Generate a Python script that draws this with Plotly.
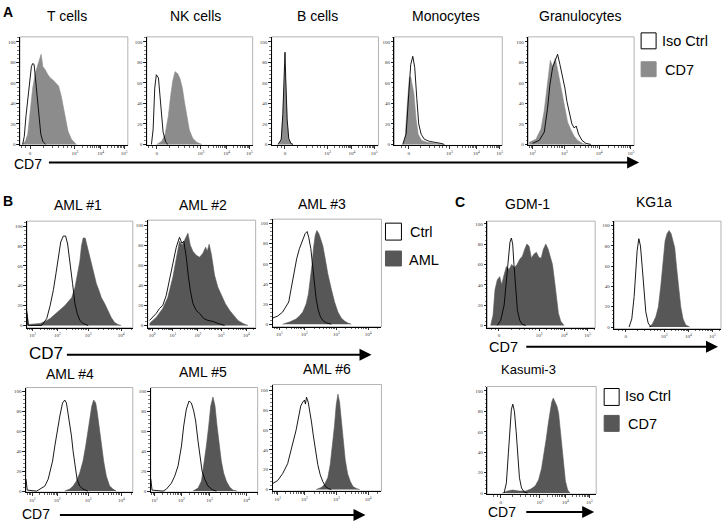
import plotly.graph_objects as go
import math

W, H = 727, 524

# ---------------- data ----------------
# x = position on the displayed fluorescence axis (0 = left edge, 1 = right edge)
# y = % of max (histogram height)

# Panel A
t_iso_x = [0.025, 0.04, 0.056, 0.072, 0.087, 0.106, 0.118, 0.131, 0.143, 0.159, 0.174, 0.193, 0.212, 0.237]
t_iso_y = [0, 8, 28, 45, 62, 76, 79, 78, 65, 45, 25, 10, 3, 0]
t_cd7_x = [0.019, 0.05, 0.072, 0.093, 0.118, 0.143, 0.165, 0.181, 0.196, 0.212, 0.234, 0.259, 0.28, 0.305, 0.33, 0.358, 0.383, 0.414, 0.445, 0.477, 0.523]
t_cd7_y = [0, 3, 10, 30, 55, 70, 78, 83, 88, 76, 73, 68, 65, 63, 60, 57, 47, 28, 13, 5, 0]

nk_iso_x = [0.044, 0.06, 0.075, 0.09, 0.11, 0.13, 0.154, 0.18, 0.2]
nk_iso_y = [0, 15, 55, 68, 65, 40, 12, 2, 0]
nk_cd7_x = [0.094, 0.141, 0.173, 0.204, 0.226, 0.245, 0.267, 0.292, 0.314, 0.336, 0.355, 0.377, 0.402, 0.434, 0.472, 0.519]
nk_cd7_y = [0, 3, 10, 28, 48, 62, 71, 69, 64, 55, 42, 28, 14, 6, 2, 0]

b_iso_x = [0.06, 0.09, 0.105, 0.118, 0.125, 0.132, 0.145, 0.16, 0.18, 0.2]
b_iso_y = [0, 5, 30, 70, 90, 65, 25, 6, 1, 0]
b_cd7_x = [0.065, 0.09, 0.105, 0.118, 0.125, 0.132, 0.145, 0.16, 0.18, 0.2]
b_cd7_y = [0, 5, 28, 60, 75, 58, 22, 5, 1, 0]

mono_iso_x = [0.077, 0.108, 0.133, 0.151, 0.17, 0.188, 0.207, 0.225, 0.247, 0.278, 0.324, 0.386, 0.432, 0.463]
mono_iso_y = [0, 10, 50, 78, 86, 75, 45, 20, 10, 5, 3, 2, 1, 0]
mono_cd7_x = [0.08, 0.1, 0.12, 0.138, 0.15, 0.165, 0.18, 0.2, 0.22, 0.25, 0.3, 0.38, 0.45]
mono_cd7_y = [0, 8, 40, 65, 66, 58, 50, 25, 10, 4, 2, 1, 0]

gran_iso_x = [0.041, 0.104, 0.151, 0.182, 0.204, 0.23, 0.255, 0.277, 0.299, 0.324, 0.346, 0.365, 0.387, 0.412, 0.434, 0.453, 0.475, 0.507, 0.544, 0.591]
gran_iso_y = [1, 4, 12, 35, 58, 75, 82, 88, 78, 66, 55, 42, 30, 20, 16, 18, 10, 4, 1, 0]
gran_cd7_x = [0.009, 0.072, 0.12, 0.151, 0.182, 0.208, 0.23, 0.255, 0.277, 0.308, 0.34, 0.371, 0.403, 0.434, 0.465, 0.512, 0.544]
gran_cd7_y = [2, 5, 15, 33, 60, 82, 76, 84, 73, 55, 37, 22, 14, 8, 4, 1, 0]

# Panel B
aml1_ctrl_x = [0, 0.004, 0.012, 0.14, 0.187, 0.219, 0.25, 0.275, 0.297, 0.319, 0.343, 0.365, 0.384, 0.406, 0.431, 0.453, 0.475, 0.5, 0.531, 0.578]
aml1_ctrl_y = [12, 8, 0, 0, 7, 20, 36, 53, 70, 84, 90, 90, 82, 65, 42, 22, 12, 5, 2, 0]
aml1_aml_x = [0, 0.004, 0.015, 0.125, 0.172, 0.219, 0.265, 0.312, 0.359, 0.39, 0.422, 0.453, 0.475, 0.5, 0.515, 0.531, 0.55, 0.568, 0.587, 0.609, 0.631, 0.656, 0.681, 0.703, 0.734, 0.765, 0.796, 0.828, 0.859, 0.89]
aml1_aml_y = [15, 10, 1, 2, 4, 7, 11, 15, 20, 24, 28, 38, 50, 65, 80, 88, 88, 80, 70, 60, 50, 42, 35, 28, 22, 15, 8, 3, 1, 0]

aml2_ctrl_x = [0.016, 0.046, 0.078, 0.109, 0.139, 0.171, 0.201, 0.232, 0.264, 0.294, 0.316, 0.334, 0.357, 0.375, 0.394, 0.418, 0.449, 0.48, 0.517, 0.557, 0.604, 0.65, 0.712]
aml2_ctrl_y = [5, 8, 12, 17, 20, 30, 45, 62, 78, 88, 82, 84, 68, 50, 35, 22, 15, 12, 7, 5, 4, 2, 0]
aml2_aml_x = [0.016, 0.078, 0.139, 0.186, 0.232, 0.264, 0.294, 0.319, 0.35, 0.372, 0.394, 0.418, 0.449, 0.48, 0.511, 0.536, 0.551, 0.569, 0.591, 0.619, 0.65, 0.681, 0.718, 0.759, 0.796, 0.836, 0.882, 0.929]
aml2_aml_y = [2, 8, 17, 28, 48, 66, 84, 80, 88, 92, 80, 74, 70, 68, 72, 78, 74, 81, 70, 50, 38, 30, 22, 15, 10, 5, 2, 0]

aml3_ctrl_x = [0, 0.046, 0.092, 0.123, 0.148, 0.17, 0.185, 0.203, 0.221, 0.246, 0.277, 0.299, 0.317, 0.332, 0.351, 0.369, 0.385, 0.4, 0.419, 0.44, 0.468, 0.498, 0.539]
aml3_ctrl_y = [6, 8, 12, 17, 22, 35, 45, 56, 65, 75, 85, 90, 92, 86, 75, 58, 40, 25, 14, 7, 3, 1, 0]
aml3_aml_x = [0.092, 0.154, 0.215, 0.246, 0.277, 0.308, 0.329, 0.348, 0.363, 0.375, 0.391, 0.406, 0.424, 0.443, 0.461, 0.483, 0.507, 0.539, 0.569, 0.6, 0.631, 0.661, 0.692, 0.723]
aml3_aml_y = [0, 2, 5, 8, 12, 20, 30, 45, 60, 75, 88, 93, 90, 84, 78, 65, 50, 35, 22, 12, 6, 3, 1, 0]

aml4_ctrl_x = [0, 0.004, 0.012, 0.1, 0.13, 0.177, 0.208, 0.224, 0.249, 0.27, 0.292, 0.317, 0.342, 0.363, 0.379, 0.394, 0.41, 0.426, 0.441, 0.46, 0.478, 0.503, 0.534, 0.581]
aml4_ctrl_y = [12, 8, 1, 0, 2, 5, 12, 19, 30, 45, 60, 75, 88, 91, 88, 78, 68, 55, 40, 25, 12, 5, 2, 0]
aml4_aml_x = [0.363, 0.41, 0.441, 0.472, 0.503, 0.534, 0.559, 0.581, 0.6, 0.616, 0.634, 0.653, 0.668, 0.687, 0.706, 0.727, 0.752, 0.783, 0.814, 0.845]
aml4_aml_y = [0, 2, 5, 10, 18, 30, 45, 60, 72, 85, 91, 88, 78, 62, 45, 30, 15, 5, 2, 0]

aml5_ctrl_x = [0, 0.004, 0.012, 0.115, 0.146, 0.193, 0.224, 0.255, 0.287, 0.308, 0.333, 0.358, 0.38, 0.402, 0.42, 0.442, 0.458, 0.48, 0.505, 0.536, 0.582, 0.614]
aml5_ctrl_y = [12, 8, 1, 0, 2, 8, 15, 25, 45, 65, 82, 90, 88, 80, 70, 50, 35, 20, 12, 5, 1, 0]
aml5_aml_x = [0.395, 0.442, 0.474, 0.495, 0.52, 0.542, 0.561, 0.582, 0.601, 0.62, 0.639, 0.66, 0.682, 0.707, 0.738, 0.769, 0.807]
aml5_aml_y = [0, 3, 10, 25, 45, 65, 85, 94, 85, 65, 45, 30, 18, 10, 4, 1, 0]

aml6_ctrl_x = [0, 0.046, 0.092, 0.138, 0.17, 0.194, 0.216, 0.237, 0.258, 0.277, 0.292, 0.302, 0.311, 0.327, 0.341, 0.357, 0.373, 0.394, 0.415, 0.437, 0.461, 0.486, 0.511, 0.539]
aml6_ctrl_y = [6, 9, 16, 26, 40, 50, 60, 72, 84, 88, 90, 86, 93, 88, 80, 68, 55, 40, 25, 15, 8, 3, 1, 0]
aml6_aml_x = [0.4, 0.446, 0.477, 0.507, 0.529, 0.551, 0.569, 0.584, 0.6, 0.615, 0.631, 0.649, 0.667, 0.689, 0.714, 0.738, 0.769, 0.8]
aml6_aml_y = [0, 2, 5, 12, 25, 45, 65, 85, 96, 88, 70, 48, 30, 16, 8, 3, 1, 0]

# Panel C
gdm_iso_x = [0.093, 0.124, 0.156, 0.177, 0.195, 0.21, 0.223, 0.235, 0.247, 0.263, 0.279, 0.3, 0.325, 0.356]
gdm_iso_y = [0, 5, 20, 45, 70, 82, 86, 80, 60, 35, 15, 5, 1, 0]
gdm_cd7_x = [0.031, 0.053, 0.071, 0.093, 0.115, 0.133, 0.156, 0.177, 0.201, 0.226, 0.251, 0.276, 0.3, 0.325, 0.347, 0.366, 0.387, 0.409, 0.431, 0.455, 0.477, 0.499, 0.52, 0.542, 0.564, 0.582, 0.604, 0.622, 0.64, 0.659, 0.681, 0.712]
gdm_cd7_y = [0, 10, 35, 45, 48, 40, 50, 58, 55, 60, 57, 60, 65, 68, 75, 80, 78, 66, 70, 72, 67, 66, 75, 80, 75, 68, 60, 45, 28, 12, 4, 0]

kg_iso_x = [0.14, 0.165, 0.187, 0.202, 0.215, 0.231, 0.246, 0.262, 0.277, 0.296, 0.318, 0.343]
kg_iso_y = [0, 8, 30, 55, 75, 87, 80, 60, 35, 15, 4, 0]
kg_cd7_x = [0.327, 0.358, 0.39, 0.414, 0.436, 0.458, 0.477, 0.495, 0.514, 0.533, 0.551, 0.567, 0.583, 0.601, 0.623, 0.645, 0.67, 0.707]
kg_cd7_y = [0, 3, 10, 20, 40, 65, 85, 92, 95, 92, 84, 78, 60, 40, 20, 8, 2, 0]

kas_iso_x = [0.154, 0.175, 0.194, 0.209, 0.221, 0.234, 0.249, 0.265, 0.28, 0.295, 0.314, 0.338, 0.369]
kas_iso_y = [0, 10, 40, 65, 82, 87, 80, 60, 35, 15, 5, 1, 0]
kas_cd7_x = [0.138, 0.185, 0.231, 0.292, 0.354, 0.4, 0.44, 0.471, 0.498, 0.52, 0.541, 0.56, 0.576, 0.591, 0.606, 0.622, 0.64, 0.655, 0.671, 0.686, 0.701, 0.717, 0.738, 0.76]
kas_cd7_y = [0, 2, 3, 2, 2, 4, 7, 13, 24, 38, 53, 68, 80, 89, 93, 89, 85, 78, 62, 43, 26, 12, 3, 0]

# tick labels
y_ticks = [0, 20, 40, 60, 80, 100]
biexp_labels = ["0", "10<sup>3</sup>", "10<sup>4</sup>", "10<sup>5</sup>"]
gran_labels = ["10<sup>2</sup>", "10<sup>3</sup>", "10<sup>4</sup>", "10<sup>5</sup>"]
log14_labels = ["10<sup>1</sup>", "10<sup>2</sup>", "10<sup>3</sup>", "10<sup>4</sup>"]
log04_labels = ["10<sup>0</sup>", "10<sup>1</sup>", "10<sup>2</sup>", "10<sup>3</sup>", "10<sup>4</sup>"]

# tick positions on the display axis
t_ticks = [0.093, 0.508, 0.748, 0.966]
nk_ticks = [0.094, 0.51, 0.755, 0.97]
b_ticks = [0.125, 0.525, 0.75, 0.96]
mono_ticks = [0.133, 0.51, 0.76, 0.975]
gran_ticks = [0.041, 0.34, 0.67, 0.969]
aml1_ticks = [0.053, 0.287, 0.578, 0.89]
aml2_ticks = [0.04, 0.233, 0.465, 0.68, 0.913]
aml3_ticks = [0.062, 0.292, 0.585, 0.877]
aml4_ticks = [0.059, 0.292, 0.581, 0.892]
aml5_ticks = [0.037, 0.287, 0.551, 0.894]
aml6_ticks = [0.046, 0.292, 0.585, 0.877]
gdm_ticks = [0.108, 0.48, 0.712, 0.929]
kg_ticks = [0.109, 0.467, 0.695, 0.919]
kas_ticks = [0.123, 0.483, 0.717, 0.938]

# ---------------- styling / layout ----------------
FONT = "Liberation Sans, Arial, sans-serif"
TICKFONT = "Liberation Serif, Times New Roman, serif"
GREY_A = "#8c8c8c"
GREY_B = "#575757"

# (title, iso x, iso y, cd7 x, cd7 y, ticks, labels, biexp?, fill, box (l,t,r,b) px, title centre px, y range, title size)
panels = [
    ("T cells", t_iso_x, t_iso_y, t_cd7_x, t_cd7_y, t_ticks, biexp_labels, True, GREY_A, (20, 37, 128, 146), (67, 16), (-1, 105), 14),
    ("NK cells", nk_iso_x, nk_iso_y, nk_cd7_x, nk_cd7_y, nk_ticks, biexp_labels, True, GREY_A, (147, 37, 253, 146), (196, 16), (-1, 105), 14),
    ("B cells", b_iso_x, b_iso_y, b_cd7_x, b_cd7_y, b_ticks, biexp_labels, True, GREY_A, (272, 37, 379, 146), (318, 16), (-1, 105), 14),
    ("Monocytes", mono_iso_x, mono_iso_y, mono_cd7_x, mono_cd7_y, mono_ticks, biexp_labels, True, GREY_A, (395, 37, 503, 146), (447, 16), (-1, 105), 14),
    ("Granulocytes", gran_iso_x, gran_iso_y, gran_cd7_x, gran_cd7_y, gran_ticks, gran_labels, False, GREY_A, (529, 37, 635, 146), (581, 16), (-1, 105), 14),
    ("AML #1", aml1_ctrl_x, aml1_ctrl_y, aml1_aml_x, aml1_aml_y, aml1_ticks, log14_labels, False, GREY_B, (27, 222, 133, 329), (78, 206), (-2.3, 105), 14),
    ("AML #2", aml2_ctrl_x, aml2_ctrl_y, aml2_aml_x, aml2_aml_y, aml2_ticks, log04_labels, False, GREY_B, (148, 221, 256, 329), (203, 206), (-2.3, 105), 14),
    ("AML #3", aml3_ctrl_x, aml3_ctrl_y, aml3_aml_x, aml3_aml_y, aml3_ticks, log14_labels, False, GREY_B, (273, 220, 382, 328), (322, 205), (-2.6, 104.3), 14),
    ("AML #4", aml4_ctrl_x, aml4_ctrl_y, aml4_aml_x, aml4_aml_y, aml4_ticks, log14_labels, False, GREY_B, (26, 389, 133, 494), (70, 375), (-1, 103.5), 14),
    ("AML #5", aml5_ctrl_x, aml5_ctrl_y, aml5_aml_x, aml5_aml_y, aml5_ticks, log14_labels, False, GREY_B, (151, 389, 258, 494), (203, 373), (-1, 103.5), 14),
    ("AML #6", aml6_ctrl_x, aml6_ctrl_y, aml6_aml_x, aml6_aml_y, aml6_ticks, log14_labels, False, GREY_B, (273, 386, 382, 493), (327, 370), (-1.6, 105.7), 14),
    ("GDM-1", gdm_iso_x, gdm_iso_y, gdm_cd7_x, gdm_cd7_y, gdm_ticks, biexp_labels, True, GREY_B, (488, 222, 596, 329), (528, 205), (-2.3, 102.6), 14),
    ("KG1a", kg_iso_x, kg_iso_y, kg_cd7_x, kg_cd7_y, kg_ticks, biexp_labels, True, GREY_B, (615, 222, 722, 330), (655, 203), (-1.7, 104.3), 14),
    ("Kasumi-3", kas_iso_x, kas_iso_y, kas_cd7_x, kas_cd7_y, kas_ticks, biexp_labels, True, GREY_B, (488, 388, 597, 496), (529, 371), (-1, 104.3), 13),
]


def px(x):
    return x / W


def py(y):
    return 1 - y / H


def minor_ticks(ticks, biexp):
    vals = []
    start = 1 if biexp else 0
    if biexp:
        p0, p1 = ticks[0], ticks[1]
        for fr in (-0.18, -0.09, 0.3, 0.5, 0.64, 0.75, 0.84, 0.92):
            vals.append(p0 + fr * (p1 - p0))
    for i in range(start, len(ticks) - 1):
        d = ticks[i + 1] - ticks[i]
        for k in range(2, 10):
            vals.append(ticks[i] + math.log10(k) * d)
    d = ticks[-1] - ticks[-2]
    for k in range(2, 10):
        vals.append(ticks[-1] + math.log10(k) * d)
    if not biexp:
        for k in range(2, 10):
            vals.append(ticks[0] - d + math.log10(k) * d)
    return [v for v in vals if 0 <= v <= 1]


fig = go.Figure()
layout = dict(
    width=W, height=H, margin=dict(l=0, r=0, t=0, b=0),
    paper_bgcolor="white", plot_bgcolor="white", showlegend=False,
    font=dict(family=FONT, color="black"),
)
annotations = []
shapes = []

for i, (title, ix, iy, cx, cy, ticks, labels, biexp, fill, box, tc, yr, tfs) in enumerate(panels, start=1):
    xs = "" if i == 1 else str(i)
    l, t, r, b = box
    fig.add_trace(go.Scatter(x=cx, y=cy, xaxis="x" + xs, yaxis="y" + xs, mode="lines",
                             fill="tozeroy", fillcolor=fill, line=dict(color=fill, width=0.6),
                             hoverinfo="skip"))
    fig.add_trace(go.Scatter(x=ix, y=iy, xaxis="x" + xs, yaxis="y" + xs, mode="lines",
                             line=dict(color="black", width=0.9), hoverinfo="skip"))
    layout["xaxis" + xs] = dict(
        domain=[px(l), px(r)], range=[0, 1], anchor="y" + xs,
        showline=True, linecolor="black", linewidth=1, showgrid=False, zeroline=False,
        ticks="outside", ticklen=2.5, tickwidth=0.8, tickcolor="black",
        tickmode="array", tickvals=ticks, ticktext=labels,
        tickfont=dict(size=5, color="#333", family=TICKFONT),
        minor=dict(tickmode="array", tickvals=minor_ticks(ticks, biexp), ticks="outside",
                   ticklen=1.5, tickwidth=0.6, tickcolor="black"),
        fixedrange=True,
    )
    layout["yaxis" + xs] = dict(
        domain=[py(b), py(t)], range=list(yr), anchor="x" + xs,
        showline=True, linecolor="black", linewidth=1, showgrid=False, zeroline=False,
        ticks="outside", ticklen=2.5, tickwidth=0.8, tickcolor="black",
        tickmode="array", tickvals=y_ticks, ticktext=[str(v) for v in y_ticks],
        tickfont=dict(size=5, color="#333", family=TICKFONT),
        minor=dict(tickmode="linear", tick0=0, dtick=4, ticks="outside",
                   ticklen=1.5, tickwidth=0.5, tickcolor="black"),
        fixedrange=True,
    )
    shapes.append(dict(type="rect", xref="x" + xs + " domain", yref="y" + xs + " domain",
                       x0=0, x1=1, y0=0, y1=1, line=dict(color="#a0a0a0", width=0.8), layer="below"))
    annotations.append(dict(text=title, x=px(tc[0]), y=py(tc[1]), xref="paper", yref="paper",
                            showarrow=False, xanchor="center", yanchor="middle",
                            font=dict(size=tfs, family=FONT, color="black")))

# panel letters
for letter, (lx, ly) in (("A", (8, 12)), ("B", (8, 202)), ("C", (461, 203))):
    annotations.append(dict(text="<b>%s</b>" % letter, x=px(lx), y=py(ly), xref="paper", yref="paper",
                            showarrow=False, xanchor="center", yanchor="middle",
                            font=dict(size=14, family=FONT, color="black")))

# legends (box left, top, right, bottom), fill, border, label, label x, label y
legend_items = [
    ((642, 33, 657, 49), "white", "black", "Iso Ctrl", 661, 41),
    ((642, 62, 657, 77), GREY_A, GREY_A, "CD7", 664, 70),
    ((386, 224, 402, 241), "white", "black", "Ctrl", 409, 233),
    ((386, 252, 402, 267), GREY_B, GREY_B, "AML", 408, 261),
    ((605, 390, 620, 407), "white", "black", "Iso Ctrl", 624, 398),
    ((605, 417, 620, 433), GREY_B, GREY_B, "CD7", 627, 426),
]
for (l, t, r, b), fc, lc, lab, tx, ty in legend_items:
    shapes.append(dict(type="rect", xref="paper", yref="paper", x0=px(l), x1=px(r), y0=py(b), y1=py(t),
                       fillcolor=fc, line=dict(color=lc, width=1)))
    annotations.append(dict(text=lab, x=px(tx), y=py(ty), xref="paper", yref="paper", showarrow=False,
                            xanchor="left", yanchor="middle", font=dict(size=14.5, family=FONT, color="black")))

# CD7 axis labels with arrows: (label centre x, y, size, arrow tail x, tip x, arrow y)
cd7_arrows = [
    (28, 165, 14, 49, 640, 163),
    (46, 355, 17, 67, 372, 356),
    (36, 516, 14, 60, 366, 517),
    (504, 348, 14.5, 527, 719, 348),
    (503, 514, 14, 527, 595, 514),
]
for cx_, cy_, fs, x0, x1, ya in cd7_arrows:
    annotations.append(dict(text="CD7", x=px(cx_), y=py(cy_), xref="paper", yref="paper", showarrow=False,
                            xanchor="center", yanchor="middle", borderpad=0,
                            font=dict(size=fs, family=FONT, color="black")))
    shapes.append(dict(type="line", xref="paper", yref="paper", x0=px(x0), x1=px(x1 - 4), y0=py(ya), y1=py(ya),
                       line=dict(color="black", width=2)))
    annotations.append(dict(text="", x=px(x1), y=py(ya), xref="paper", yref="paper", showarrow=True,
                            ax=-8, ay=0, axref="pixel", ayref="pixel",
                            arrowhead=2, arrowsize=1.2, arrowwidth=2, arrowcolor="black", standoff=0))

layout["annotations"] = annotations
layout["shapes"] = shapes
fig.update_layout(**layout)
fig.write_html(
    "out.html",
    config={"displayModeBar": False, "staticPlot": True},
    post_script="document.body.style.margin='0';document.body.style.padding='0';"
                "document.body.style.overflow='hidden';",
)
